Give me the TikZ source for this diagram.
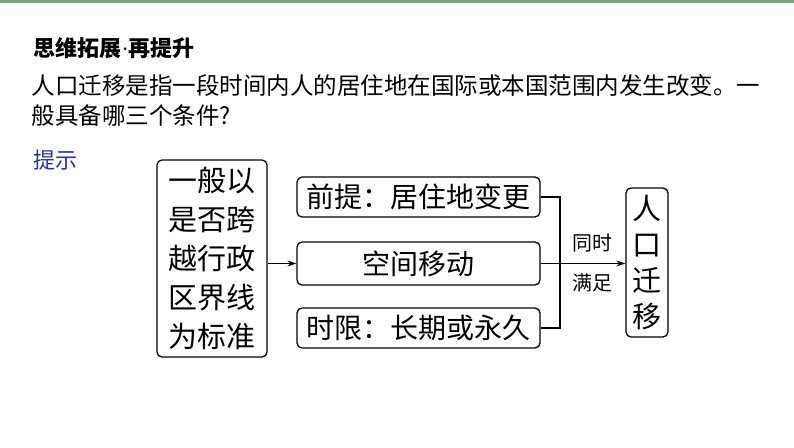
\documentclass[tikz,border=0pt]{standalone}
\usepackage{fontspec}
\newfontfamily\cjk{Noto Sans CJK SC}
\newfontfamily\latin{Liberation Serif}
\usetikzlibrary{positioning,arrows.meta}
\definecolor{tipblue}{RGB}{40,50,160}
\definecolor{topgreen}{RGB}{120,170,130}
\begin{document}
\begin{tikzpicture}
    [
      x=1pt, y=-1pt,
      box/.style=
        {
          draw=black,
          line width=1.3pt,
          rounded corners=5pt,
          inner sep=0pt,
          font=\cjk\fontsize{28}{34}\selectfont,
        },
      link/.style={line width=1.1pt},
    ]
    \useasboundingbox (0,0) rectangle (794,447);
    \fill[white] (0,0) rectangle (794,447);
    \fill[topgreen] (0,0) rectangle (794,3);
    % heading and question
    \node (head) [anchor=west, font=\cjk\bfseries\fontsize{22}{26}\selectfont] at (30,48) {思维拓展{\latin\mdseries·}再提升};
    \node (ask) [anchor=north west, align=left,
                 font=\cjk\fontsize{23.5}{30}\selectfont] at (28,71)
      {人口迁移是指一段时间内人的居住地在国际或本国范围内发生改变。一\\般具备哪三个条件?};
    \node (tip) [anchor=west, text=tipblue, font=\cjk\fontsize{22}{26}\selectfont] at (30,160) {提示};
    % diagram
    \node (rule) [box, minimum width=110pt, minimum height=197pt, align=center,
                  font=\cjk\fontsize{29}{39}\selectfont] at (212,258.5)
      {一般以\\是否跨\\越行政\\区界线\\为标准};
    \node (pre) [box, minimum width=243pt, minimum height=40pt] at (418.5,197) {前提：居住地变更};
    \node (move) [box, minimum width=243pt, minimum height=43pt] at (418.5,263.5) {空间移动};
    \node (time) [box, minimum width=243pt, minimum height=40pt] at (418.5,328) {时限：长期或永久};
    \node (res) [box, minimum width=42pt, minimum height=149pt, align=center,
                 font=\cjk\fontsize{29}{36}\selectfont] at (647,262.5)
      {人\\口\\迁\\移};
    \coordinate (joinT) at (560,197);
    \coordinate (joinB) at (560,328);
    \coordinate (joinM) at (560,263.5);
    \draw[link, -{Stealth[length=9pt,width=6pt]}] (rule.east |- move) -- (move.west);
    \draw[link] (pre.east) -- (joinT) -- (joinB) -- (time.east);
    \draw[link] (move.east) -- (joinM);
    \draw[link, -{Stealth[length=9pt,width=6pt]}] (joinM) -- (res.west |- joinM);
    \node (same) [font=\cjk\fontsize{20}{24}\selectfont] at (592,243) {同时};
    \node (meet) [font=\cjk\fontsize{20}{24}\selectfont] at (592,283) {满足};
\end{tikzpicture}
\end{document}
